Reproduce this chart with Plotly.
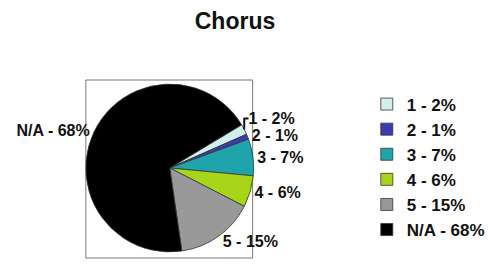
import plotly.graph_objects as go

categories = ["1", "2", "3", "4", "5", "N/A"]
percents = [2, 1, 7, 6, 15, 68]
colors = ["#d2eeee", "#3c3cae", "#1ea4aa", "#a8d41a", "#999999", "#000000"]

labels = [f"{c} - {p}%" for c, p in zip(categories, percents)]

W, H = 490, 267
cx, cy, r = 174, 168, 86
FONT = "Liberation Sans"

fig = go.Figure(go.Pie(
    labels=labels,
    values=percents,
    sort=False,
    direction="clockwise",
    rotation=59,
    marker=dict(colors=colors, line=dict(color="#333333", width=0.8)),
    textinfo="label",
    textposition="outside",
    textfont=dict(family=FONT, size=16, color="#111111", weight="bold"),
    domain=dict(x=[(cx - r) / W, (cx + r) / W], y=[1 - (cy + r) / H, 1 - (cy - r) / H]),
    hoverinfo="label",
))

fig.add_shape(type="rect", xref="paper", yref="paper",
              x0=88 / W, x1=259 / W, y0=1 - 258 / H, y1=1 - 80 / H,
              line=dict(color="#777777", width=1), layer="below")

fig.update_layout(
    width=W, height=H,
    margin=dict(l=0, r=0, t=0, b=0),
    paper_bgcolor="white", plot_bgcolor="white",
    title=dict(text="<b>Chorus</b>", x=235 / W, xanchor="center", y=1 - 21 / H, yanchor="middle",
               font=dict(family=FONT, size=23, color="#111111")),
    legend=dict(x=376 / W, y=1 - 167 / H, xanchor="left", yanchor="middle",
                font=dict(family=FONT, size=17, color="#111111", weight="bold"),
                itemwidth=30, tracegroupgap=0, bgcolor="rgba(0,0,0,0)"),
    showlegend=True,
)

fig.write_html("out.html", config={"displayModeBar": False},
               post_script="document.body.style.margin='0px';")
